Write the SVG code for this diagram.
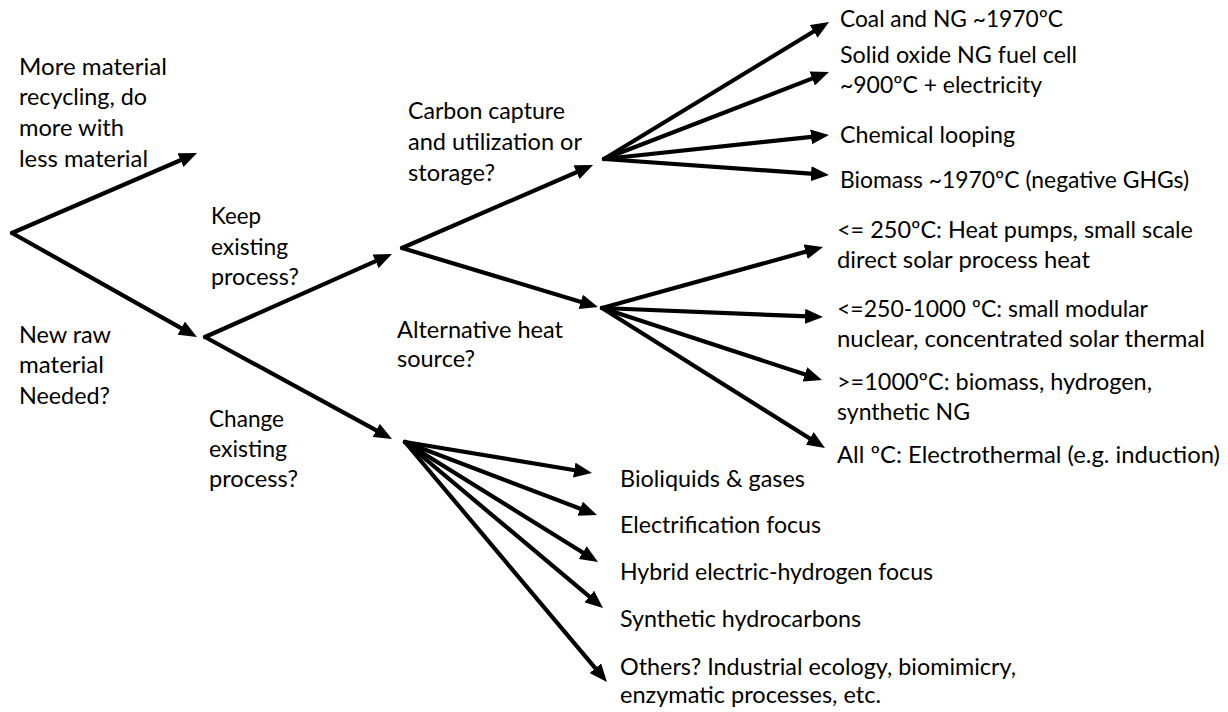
<svg xmlns="http://www.w3.org/2000/svg" width="1228" height="712" viewBox="0 0 1228 712">
<style>
text { font-family: Lato, "Open Sans", "Liberation Sans", sans-serif; font-size: 23.5px; fill: #000; }
.c line { stroke: #000; stroke-width: 4.2; stroke-linecap: round; marker-end: url(#ah); }
</style>
<defs>
<marker id="ah" markerUnits="userSpaceOnUse" markerWidth="18" markerHeight="15" refX="10" refY="7.5" orient="auto">
<path d="M0,0 L18,7.5 L0,15 Z" fill="#000"/>
</marker>
</defs>
<rect width="1228" height="712" fill="#fff"/>
<g class="c" id="connectors">
<line x1="12" y1="233" x2="189.7" y2="156.2"/>
<line x1="12" y1="233" x2="190.0" y2="333.1"/>
<line x1="205" y1="337" x2="384.7" y2="257.2"/>
<line x1="205" y1="337" x2="385.0" y2="435.2"/>
<line x1="402" y1="248" x2="585.7" y2="168.2"/>
<line x1="402" y1="248" x2="590.3" y2="304.7"/>
<line x1="604" y1="159" x2="822.2" y2="26.2"/>
<line x1="604" y1="159" x2="821.5" y2="74.9"/>
<line x1="604" y1="159" x2="821.0" y2="135.8"/>
<line x1="604" y1="159" x2="821.0" y2="174.4"/>
<line x1="602" y1="308" x2="815.3" y2="249.1"/>
<line x1="602" y1="308" x2="815.0" y2="316.7"/>
<line x1="602" y1="308" x2="814.4" y2="377.5"/>
<line x1="602" y1="308" x2="818.2" y2="443.7"/>
<line x1="405" y1="442" x2="584.1" y2="471.7"/>
<line x1="405" y1="442" x2="589.5" y2="512.2"/>
<line x1="405" y1="442" x2="591.2" y2="557.8"/>
<line x1="405" y1="442" x2="596.9" y2="602.9"/>
<line x1="405" y1="442" x2="601.8" y2="675.9"/>
</g>
<g id="n-recycle"><text x="19" y="75" textLength="148" lengthAdjust="spacingAndGlyphs">More material</text><text x="19" y="105" textLength="128" lengthAdjust="spacingAndGlyphs">recycling, do</text><text x="19" y="136" textLength="105" lengthAdjust="spacingAndGlyphs">more with</text><text x="19" y="167" textLength="129" lengthAdjust="spacingAndGlyphs">less material</text></g>
<g id="n-newraw"><text x="19" y="343" textLength="92" lengthAdjust="spacingAndGlyphs">New raw</text><text x="19" y="373" textLength="85" lengthAdjust="spacingAndGlyphs">material</text><text x="19" y="404" textLength="91" lengthAdjust="spacingAndGlyphs">Needed?</text></g>
<g id="n-keep"><text x="211" y="224" textLength="50" lengthAdjust="spacingAndGlyphs">Keep</text><text x="211" y="255" textLength="77" lengthAdjust="spacingAndGlyphs">existing</text><text x="211" y="285" textLength="88" lengthAdjust="spacingAndGlyphs">process?</text></g>
<g id="n-change"><text x="209" y="427" textLength="75" lengthAdjust="spacingAndGlyphs">Change</text><text x="209" y="457" textLength="78" lengthAdjust="spacingAndGlyphs">existing</text><text x="209" y="487" textLength="89" lengthAdjust="spacingAndGlyphs">process?</text></g>
<g id="n-ccus"><text x="408" y="119" textLength="157" lengthAdjust="spacingAndGlyphs">Carbon capture</text><text x="408" y="150" textLength="174" lengthAdjust="spacingAndGlyphs">and utilization or</text><text x="408" y="181" textLength="87" lengthAdjust="spacingAndGlyphs">storage?</text></g>
<g id="n-altheat"><text x="397" y="338" textLength="166" lengthAdjust="spacingAndGlyphs">Alternative heat</text><text x="397" y="367" textLength="78" lengthAdjust="spacingAndGlyphs">source?</text></g>
<g id="n-coal"><text x="840" y="27" textLength="223" lengthAdjust="spacingAndGlyphs">Coal and NG ~1970ºC</text></g>
<g id="n-sofc"><text x="840" y="63" textLength="237" lengthAdjust="spacingAndGlyphs">Solid oxide NG fuel cell</text><text x="840" y="93" textLength="202" lengthAdjust="spacingAndGlyphs">~900ºC + electricity</text></g>
<g id="n-loop"><text x="840" y="143" textLength="175" lengthAdjust="spacingAndGlyphs">Chemical looping</text></g>
<g id="n-biomass"><text x="840" y="188" textLength="349" lengthAdjust="spacingAndGlyphs">Biomass ~1970ºC (negative GHGs)</text></g>
<g id="n-250"><text x="837" y="238" textLength="356" lengthAdjust="spacingAndGlyphs">&lt;= 250ºC: Heat pumps, small scale</text><text x="837" y="268" textLength="253" lengthAdjust="spacingAndGlyphs">direct solar process heat</text></g>
<g id="n-1000"><text x="837" y="317" textLength="311" lengthAdjust="spacingAndGlyphs">&lt;=250-1000 ºC: small modular</text><text x="837" y="347" textLength="368" lengthAdjust="spacingAndGlyphs">nuclear, concentrated solar thermal</text></g>
<g id="n-high"><text x="837" y="390" textLength="315" lengthAdjust="spacingAndGlyphs">&gt;=1000ºC: biomass, hydrogen,</text><text x="837" y="420" textLength="133" lengthAdjust="spacingAndGlyphs">synthetic NG</text></g>
<g id="n-all"><text x="837" y="463" textLength="383" lengthAdjust="spacingAndGlyphs">All ºC: Electrothermal (e.g. induction)</text></g>
<g id="n-bio"><text x="620" y="487" textLength="185" lengthAdjust="spacingAndGlyphs">Bioliquids &amp; gases</text></g>
<g id="n-elec"><text x="620" y="533" textLength="201" lengthAdjust="spacingAndGlyphs">Electrification focus</text></g>
<g id="n-hybrid"><text x="620" y="580" textLength="313" lengthAdjust="spacingAndGlyphs">Hybrid electric-hydrogen focus</text></g>
<g id="n-synth"><text x="620" y="627" textLength="241" lengthAdjust="spacingAndGlyphs">Synthetic hydrocarbons</text></g>
<g id="n-others"><text x="620" y="675" textLength="396" lengthAdjust="spacingAndGlyphs">Others? Industrial ecology, biomimicry,</text><text x="620" y="703" textLength="261" lengthAdjust="spacingAndGlyphs">enzymatic processes, etc.</text></g>
</svg>
